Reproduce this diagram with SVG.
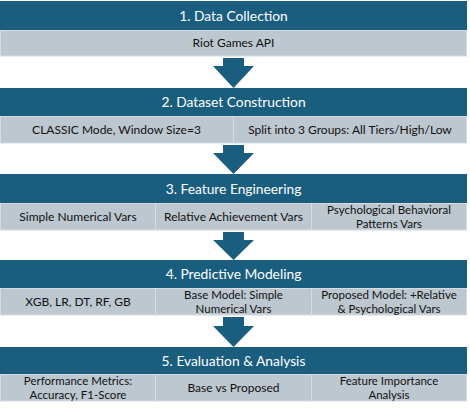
<svg xmlns="http://www.w3.org/2000/svg" width="470" height="409" viewBox="0 0 470 409">
<style>
.hd{fill:#1a5e7f}
.cell{fill:#bdc7cf;stroke:#d5dce2;stroke-width:1}
.ht{font-family:Lato,"Open Sans","Liberation Sans",sans-serif;font-size:13.8px;fill:#ffffff;text-anchor:middle}
.ct{font-family:Lato,"Open Sans","Liberation Sans",sans-serif;font-size:12px;fill:#111111;text-anchor:middle}
.c2{font-size:11.5px}
.arr{fill:#1a5e7f}
</style>
<rect width="470" height="409" fill="#ffffff"/>
<g id="connectors">
<polygon class="arr" points="223,58 244,58 244,66 254,66 233.5,88 213,66 223,66"/>
<polygon class="arr" points="223,145 244,145 244,153 254,153 233.5,174 213,153 223,153"/>
<polygon class="arr" points="223,232 244,232 244,240 254,240 233.5,260 213,240 223,240"/>
<polygon class="arr" points="223,317 244,317 244,326 254,326 233.5,347 213,326 223,326"/>
</g>
<g id="step1">
<rect class="hd" x="0" y="1" width="467" height="29"/>
<text class="ht" x="233.5" y="20.5">1. Data Collection</text>
<rect class="cell" x="0.5" y="30.5" width="466" height="25.5"/>
<text class="ct" x="233.5" y="47">Riot Games API</text>
</g>
<g id="step2">
<rect class="hd" x="0" y="88" width="467" height="28"/>
<text class="ht" x="233.5" y="107">2. Dataset Construction</text>
<rect class="cell" x="0.5" y="116.5" width="233" height="26.5"/>
<rect class="cell" x="233.5" y="116.5" width="233" height="26.5"/>
<text class="ct" x="116.5" y="134">CLASSIC Mode, Window Size=3</text>
<text class="ct" x="350" y="134">Split into 3 Groups: All Tiers/High/Low</text>
</g>
<g id="step3">
<rect class="hd" x="0" y="174" width="467" height="29"/>
<text class="ht" x="233.5" y="193.5">3. Feature Engineering</text>
<rect class="cell" x="0.5" y="203.5" width="155" height="26.5"/>
<rect class="cell" x="155.5" y="203.5" width="156" height="26.5"/>
<rect class="cell" x="311.5" y="203.5" width="155" height="26.5"/>
<text class="ct" x="78" y="221">Simple Numerical Vars</text>
<text class="ct" x="233.5" y="221">Relative Achievement Vars</text>
<text class="ct c2" x="389" y="213.5">Psychological Behavioral<tspan x="389" dy="14">Patterns Vars</tspan></text>
</g>
<g id="step4">
<rect class="hd" x="0" y="260" width="467" height="28"/>
<text class="ht" x="233.5" y="279">4. Predictive Modeling</text>
<rect class="cell" x="0.5" y="288.5" width="155" height="26.5"/>
<rect class="cell" x="155.5" y="288.5" width="156" height="26.5"/>
<rect class="cell" x="311.5" y="288.5" width="155" height="26.5"/>
<text class="ct" x="78" y="306">XGB, LR, DT, RF, GB</text>
<text class="ct c2" x="233.5" y="298.5">Base Model: Simple<tspan x="233.5" dy="14">Numerical Vars</tspan></text>
<text class="ct c2" x="389" y="298.5">Proposed Model: +Relative<tspan x="389" dy="14">&amp; Psychological Vars</tspan></text>
</g>
<g id="step5">
<rect class="hd" x="0" y="347" width="467" height="27"/>
<text class="ht" x="233.5" y="365.5">5. Evaluation &amp; Analysis</text>
<rect class="cell" x="0.5" y="374.5" width="155" height="26.5"/>
<rect class="cell" x="155.5" y="374.5" width="156" height="26.5"/>
<rect class="cell" x="311.5" y="374.5" width="155" height="26.5"/>
<text class="ct c2" x="78" y="384.5">Performance Metrics:<tspan x="78" dy="14">Accuracy, F1-Score</tspan></text>
<text class="ct" x="233.5" y="392">Base vs Proposed</text>
<text class="ct c2" x="389" y="384.5">Feature Importance<tspan x="389" dy="14">Analysis</tspan></text>
</g>
</svg>
